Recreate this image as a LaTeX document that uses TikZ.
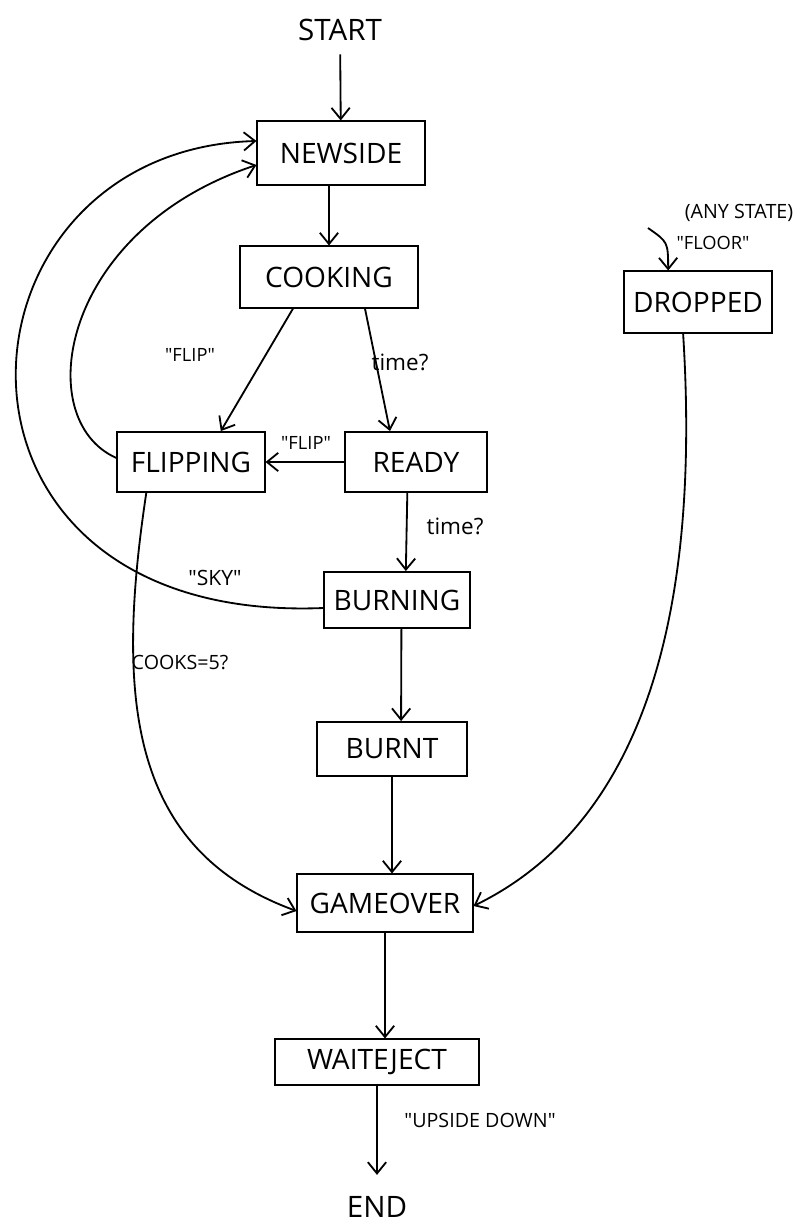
\documentclass[tikz,border=0pt]{standalone}
\usepackage{fontspec}
\setmainfont{Open Sans}
\usepackage{tikz}
\usetikzlibrary{arrows.meta,calc}
\newcommand{\qt}[1]{\textquotedbl#1\textquotedbl}

\begin{document}
\begin{tikzpicture}[x=0.25mm,y=-0.25mm,line width=1.3pt,
  >={Straight Barb[length=8pt,width=13pt]},
  statebox/.style={draw,rectangle,inner sep=0pt,font=\fontsize{20}{24}\selectfont},
  endpt/.style={font=\fontsize{21}{25}\selectfont},
  lbl/.style={inner sep=1pt,font=\fontsize{13}{15}\selectfont}]
\useasboundingbox (0,0) rectangle (804,1225);

% states
\node[endpt] (start) at (340,30) {START};
\node[statebox,minimum width=41.8mm,minimum height=15.8mm] (newside) at (341,153) {NEWSIDE};
\node[statebox,minimum width=44.5mm,minimum height=15.3mm] (cooking) at (329,277) {COOKING};
\node[statebox,minimum width=36.8mm,minimum height=15mm] (flipping) at (191,462) {FLIPPING};
\node[statebox,minimum width=35.7mm,minimum height=15mm] (ready) at (416,462) {READY};
\node[statebox,minimum width=36.3mm,minimum height=14mm] (burning) at (397,600) {BURNING};
\node[statebox,minimum width=37.3mm,minimum height=13.5mm] (burnt) at (392,749) {BURNT};
\node[statebox,minimum width=43.8mm,minimum height=14.3mm] (gameover) at (385,903) {GAMEOVER};
\node[statebox,minimum width=50.8mm,minimum height=11.3mm] (waiteject) at (377,1062) {WAITEJECT};
\node[statebox,minimum width=36.8mm,minimum height=15.3mm] (dropped) at (698,302) {DROPPED};
\node[endpt] (end) at (377,1207) {END};

% labels
\node[lbl] (flipA) at (190,355) {\qt{FLIP}};
\node[lbl,font=\fontsize{16}{18}\selectfont] (timeA) at (400,362) {time?};
\node[lbl] (flipB) at (306,443) {\qt{FLIP}};
\node[lbl,font=\fontsize{16}{18}\selectfont] (timeB) at (455,526) {time?};
\node[lbl,font=\fontsize{15}{18}\selectfont] (sky) at (215,578) {\qt{SKY}};
\node[lbl,font=\fontsize{14}{16}\selectfont] (cooks) at (180,662) {COOKS=5?};
\node[lbl,font=\fontsize{14}{16}\selectfont] (anystate) at (739,213) {(ANY STATE)};
\node[lbl] (floor) at (713,243) {\qt{FLOOR}};
\node[lbl,font=\fontsize{14}{16}\selectfont] (upside) at (480,1120) {\qt{UPSIDE DOWN}};

% transitions
\draw[->,shorten <=2mm] (start) -- (newside);
\draw[->] (newside.south -| cooking.north) -- (cooking.north);
\draw[->] ($(cooking.south west)!0.3!(cooking.south east)$) -- ($(flipping.north west)!0.7!(flipping.north east)$);
\draw[->] ($(cooking.south west)!0.7!(cooking.south east)$) -- ($(ready.north west)!0.32!(ready.north east)$);
\draw[->] (ready.west) -- (flipping.east);
\draw[->] ($(flipping.west)+(0,-4)$) .. controls (30,420) and (60,230) .. ($(newside.west)+(0,12)$);
\draw[->] ($(burning.west)+(0,8)$) .. controls (-90,625) and (-60,150) .. ($(newside.west)+(0,-12)$);
\draw[->] ($(ready.south west)!0.44!(ready.south east)$) -- ($(burning.north west)!0.56!(burning.north east)$);
\draw[->] ($(burning.south west)!0.53!(burning.south east)$) -- ($(burnt.north west)!0.56!(burnt.north east)$);
\draw[->] (burnt.south) -- (burnt.south |- gameover.north);
\draw[->] ($(flipping.south west)!0.2!(flipping.south east)$) .. controls (115,700) and (130,850) .. ($(gameover.west)+(0,8)$);
\draw[->] ($(dropped.south west)!0.4!(dropped.south east)$) .. controls (700,600) and (650,820) .. ($(gameover.east)+(0,3)$);
\coordinate (anyin) at (648,228);
\draw[->] (anyin) .. controls (668,242) .. ($(dropped.north west)!0.3!(dropped.north east)$);
\draw[->] (gameover.south) -- (gameover.south |- waiteject.north);
\draw[->,shorten >=4mm] (waiteject.south) -- (end.north);
\end{tikzpicture}
\end{document}
